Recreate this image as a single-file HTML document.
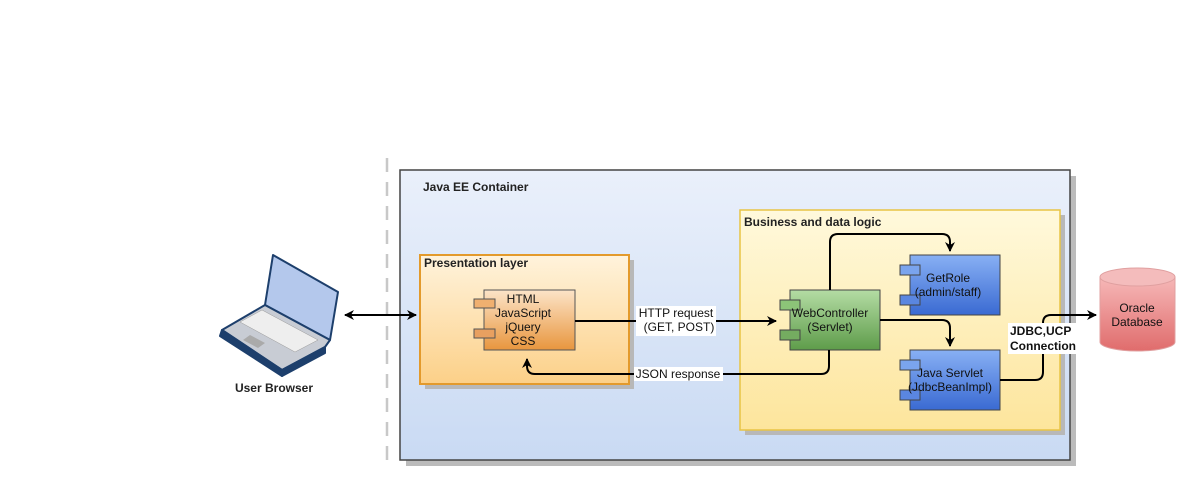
<!DOCTYPE html>
<html><head><meta charset="utf-8"><style>body{margin:0;background:#fff}svg{display:block;font-family:"Liberation Sans",sans-serif}</style></head><body>
<svg width="1195" height="497" viewBox="0 0 1195 497" xmlns="http://www.w3.org/2000/svg">
<defs>
<linearGradient id="gee" x1="0" y1="0" x2="0" y2="1"><stop offset="0" stop-color="#eaf0fb"/><stop offset="1" stop-color="#c9daf3"/></linearGradient>
<linearGradient id="gpl" x1="0" y1="0" x2="0" y2="1"><stop offset="0" stop-color="#fff3dc"/><stop offset="1" stop-color="#fcd088"/></linearGradient>
<linearGradient id="gbl" x1="0" y1="0" x2="0" y2="1"><stop offset="0" stop-color="#fff9dc"/><stop offset="1" stop-color="#fde59c"/></linearGradient>
<linearGradient id="gor" x1="0" y1="0" x2="0" y2="1"><stop offset="0" stop-color="#fce4c8"/><stop offset="1" stop-color="#e8963e"/></linearGradient>
<linearGradient id="ggr" x1="0" y1="0" x2="0" y2="1"><stop offset="0" stop-color="#b4dca4"/><stop offset="1" stop-color="#5e9c4a"/></linearGradient>
<linearGradient id="gbu" x1="0" y1="0" x2="0" y2="1"><stop offset="0" stop-color="#88b0f4"/><stop offset="1" stop-color="#3a6ad2"/></linearGradient>
<linearGradient id="gdb" x1="0" y1="0" x2="0" y2="1"><stop offset="0" stop-color="#f6b8b8"/><stop offset="1" stop-color="#e06c6c"/></linearGradient>
<marker id="ah" markerWidth="10" markerHeight="10" refX="9" refY="5" orient="auto" markerUnits="userSpaceOnUse"><path d="M0,0 L10,5 L0,10 L3,5 z" fill="#000"/></marker>
<marker id="as" markerWidth="10" markerHeight="10" refX="1" refY="5" orient="auto" markerUnits="userSpaceOnUse"><path d="M10,0 L0,5 L10,10 L7,5 z" fill="#000"/></marker>
</defs>
<line x1="387" y1="158" x2="387" y2="466" stroke="#c8c8c8" stroke-width="2.5" stroke-dasharray="14,10"/>
<rect x="406" y="176" width="670" height="290" fill="#bbb"/>
<rect x="400" y="170" width="670" height="290" fill="url(#gee)" stroke="#444" stroke-width="1.5"/>
<text x="423" y="191" font-size="12" font-weight="bold" fill="#222">Java EE Container</text>
<rect x="425" y="260" width="209" height="129" fill="#b8b8b8"/>
<rect x="420" y="255" width="209" height="129" fill="url(#gpl)" stroke="#e39a2c" stroke-width="2"/>
<text x="424" y="267" font-size="12" font-weight="bold" fill="#222">Presentation layer</text>
<rect x="745" y="215" width="320" height="220" fill="#b8b8b8"/>
<rect x="740" y="210" width="320" height="220" fill="url(#gbl)" stroke="#e8c444" stroke-width="1.5"/>
<text x="744" y="226" font-size="12" font-weight="bold" fill="#222">Business and data logic</text>
<rect x="484" y="290" width="91" height="60" fill="url(#gor)" stroke="#555"/>
<rect x="474" y="299" width="21" height="9" fill="#f0b070" stroke="#555"/>
<rect x="474" y="329" width="21" height="9" fill="#e8a060" stroke="#555"/>
<g font-size="12" fill="#111" text-anchor="middle"><text x="523" y="303">HTML</text><text x="523" y="317">JavaScript</text><text x="523" y="331">jQuery</text><text x="523" y="345">CSS</text></g>
<rect x="790" y="290" width="90" height="60" fill="url(#ggr)" stroke="#444"/>
<rect x="780" y="300" width="20" height="10" fill="#8cc478" stroke="#444"/>
<rect x="780" y="330" width="20" height="10" fill="#74ac60" stroke="#444"/>
<g font-size="12" fill="#111" text-anchor="middle"><text x="830" y="317">WebController</text><text x="830" y="331">(Servlet)</text></g>
<rect x="910" y="255" width="90" height="60" fill="url(#gbu)" stroke="#444"/>
<rect x="900" y="265" width="20" height="10" fill="#7aa4ee" stroke="#444"/>
<rect x="900" y="295" width="20" height="10" fill="#5a86e0" stroke="#444"/>
<g font-size="12" fill="#111" text-anchor="middle"><text x="948" y="282">GetRole</text><text x="948" y="296">(admin/staff)</text></g>
<rect x="910" y="350" width="90" height="60" fill="url(#gbu)" stroke="#444"/>
<rect x="900" y="360" width="20" height="10" fill="#7aa4ee" stroke="#444"/>
<rect x="900" y="390" width="20" height="10" fill="#5a86e0" stroke="#444"/>
<g font-size="12" fill="#111" text-anchor="middle"><text x="950" y="377">Java Servlet</text><text x="950" y="391">(JdbcBeanImpl)</text></g>
<path d="M1100,277 v65 a37.5,9 0 0 0 75,0 v-65" fill="url(#gdb)" stroke="#e0a0a0"/>
<ellipse cx="1137.5" cy="277" rx="37.5" ry="9" fill="#f4bcbc" stroke="#e0a0a0"/>
<g font-size="12" fill="#111" text-anchor="middle"><text x="1137" y="312">Oracle</text><text x="1137" y="326">Database</text></g>
<!-- laptop -->
<g stroke="#1d3f6c" stroke-width="2" stroke-linejoin="round">
<path d="M273,255 L338,292 L330,340 L265,305 z" fill="#b4c8ec"/>
<path d="M265,305 L330,340 L325,347 L282,370 L222,330 z" fill="#c8ccd4"/>
<path d="M222,330 L282,370 L282,376 L220,336 z" fill="#1d3f6c"/>
<path d="M282,370 L325,347 L325,353 L282,376 z" fill="#1d3f6c"/>
</g>
<path d="M262,310 L318,340 L295,352 L240,322 z" fill="#eeeeee" stroke="#999" stroke-width="0.5"/>
<path d="M250,335 L265,343 L258,348 L243,340 z" fill="#aaa"/>
<text x="274" y="392" font-size="12" font-weight="bold" fill="#222" text-anchor="middle">User Browser</text>
<g fill="none" stroke="#000" stroke-width="2">
<line x1="345" y1="315" x2="416" y2="315" marker-start="url(#as)" marker-end="url(#ah)"/>
<line x1="575" y1="321" x2="776" y2="321" marker-end="url(#ah)"/>
<path d="M829,350 V366 Q829,374 821,374 H535 Q527,374 527,366 V359" marker-end="url(#ah)"/>
<path d="M830,290 V242 Q830,234 838,234 H942 Q950,234 950,242 V251" marker-end="url(#ah)"/>
<path d="M880,320 H942 Q950,320 950,328 V346" marker-end="url(#ah)"/>
<path d="M1000,380 H1035 Q1043,380 1043,372 V323 Q1043,315 1051,315 H1096" marker-end="url(#ah)"/>
</g>
<rect x="636" y="306" width="80" height="30" fill="#fff"/>
<g font-size="12" fill="#111" text-anchor="middle"><text x="676" y="317">HTTP request</text><text x="679" y="331">(GET, POST)</text></g>
<rect x="634" y="367" width="89" height="14" fill="#fff"/>
<text x="678" y="378" font-size="12" fill="#111" text-anchor="middle">JSON response</text>
<rect x="1008" y="323" width="70" height="31" fill="#fff"/>
<g font-size="12" font-weight="bold" fill="#111"><text x="1010" y="335">JDBC,UCP</text><text x="1010" y="350">Connection</text></g>
</svg>
</body></html>
